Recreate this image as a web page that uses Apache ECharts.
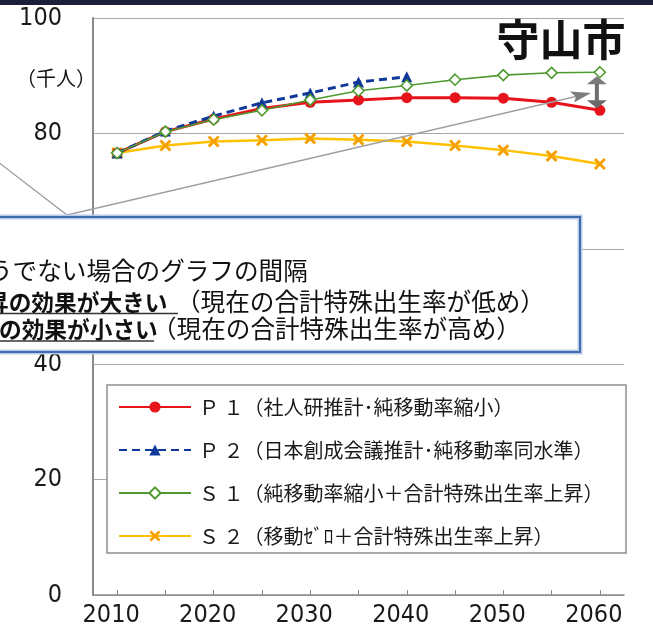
<!DOCTYPE html>
<html><head><meta charset="utf-8">
<script src="https://cdn.jsdelivr.net/npm/echarts@6/dist/echarts.min.js"></script>
<style>html,body{margin:0;padding:0;background:#fff}#c{width:653px;height:628px}</style>
</head><body><div id="c"></div>
<script>
// ---- data ----
const years = ['2010','2015','2020','2025','2030','2035','2040','2045','2050','2055','2060'];
const p1 = [76.6, 80.3, 82.5, 84.3, 85.4, 85.8, 86.2, 86.2, 86.1, 85.4, 84.0];
const p2 = [76.6, 80.4, 83.0, 85.3, 87.0, 88.9, 89.8];
const s1 = [76.6, 80.3, 82.4, 84.0, 85.8, 87.4, 88.3, 89.3, 90.1, 90.5, 90.6];
const s2 = [76.6, 77.9, 78.6, 78.8, 79.1, 78.9, 78.6, 77.9, 77.1, 76.1, 74.7];
const yTicks = [0, 20, 40, 60, 80, 100];
const seriesNames = [
  'Ｐ １（社人研推計･純移動率縮小）',
  'Ｐ ２（日本創成会議推計･純移動率同水準）',
  'Ｓ １（純移動率縮小＋合計特殊出生率上昇）',
  'Ｓ ２（移動ｾﾞﾛ＋合計特殊出生率上昇）'
];
const titleText = '守山市';
const unitText = '（千人）';
const noteLine1 = 'うでない場合のグラフの間隔';
const noteLine2Bold = '昇の効果が大きい';
const noteLine2 = '（現在の合計特殊出生率が低め）';
const noteLine3Bold = 'の効果が小さい';
const noteLine3 = '（現在の合計特殊出生率が高め）';

const NUM_FONT = "'Liberation Sans Narrow','DejaVu Sans Condensed','Arial Narrow',sans-serif";
const JP_FONT = "'Noto Sans CJK JP','Noto Sans CJK SC',sans-serif";
const xMark = 'path://M0,1.7L1.7,0L5,3.3L8.3,0L10,1.7L6.7,5L10,8.3L8.3,10L5,6.7L1.7,10L0,8.3L3.3,5Z';

const chart = echarts.init(document.getElementById('c'), null, {renderer: 'canvas'});
chart.setOption({
  animation: false,
  backgroundColor: '#ffffff',
  grid: {left: 93, right: 29, top: 18, bottom: 30, containLabel: false},
  legend: {
    orient: 'vertical', left: 118, top: 397, padding: 0,
    itemWidth: 72, itemHeight: 14, itemGap: 23,
    textStyle: {fontFamily: JP_FONT, fontSize: 20, lineHeight: 20, color: '#1a1a1a', padding: [0, 0, 0, 3]},
    data: seriesNames, z: 6
  },
  xAxis: {
    type: 'category', data: years, boundaryGap: true,
    axisLine: {lineStyle: {color: '#8a8a8a', width: 1.5}},
    axisTick: {show: true, inside: true, length: 5, alignWithLabel: true, interval: 0, lineStyle: {color: '#8a8a8a'}},
    axisLabel: {interval: 1, margin: 8, formatter: '{a|{value}}',
      rich: {a: {fontFamily: NUM_FONT, fontSize: 25, color: '#1a1a1a', padding: [0, 12, 0, 0]}}},
    splitLine: {show: false}
  },
  yAxis: {
    type: 'value', min: yTicks[0], max: yTicks[yTicks.length - 1], interval: 20,
    axisLine: {show: true, lineStyle: {color: '#8a8a8a', width: 2}},
    axisTick: {show: false},
    axisLabel: {fontFamily: NUM_FONT, fontSize: 25, color: '#1a1a1a', margin: 31},
    splitLine: {lineStyle: {color: '#a8a8a8', width: 1}}
  },
  series: [
    {name: seriesNames[0], type: 'line', data: p1, symbol: 'circle', symbolSize: 11,
     lineStyle: {color: '#e8141c', width: 3}, itemStyle: {color: '#e8141c'}, z: 3},
    {name: seriesNames[1], type: 'line', data: p2, symbol: 'triangle', symbolSize: 11,
     lineStyle: {color: '#10389a', width: 3, type: [8, 5]}, itemStyle: {color: '#10389a'}, z: 4},
    {name: seriesNames[2], type: 'line', data: s1, symbol: 'diamond', symbolSize: 11,
     lineStyle: {color: '#4e9a2f', width: 1.6}, itemStyle: {color: '#ffffff', borderColor: '#4e9a2f', borderWidth: 1.6}, z: 5},
    {name: seriesNames[3], type: 'line', data: s2, symbol: xMark, symbolSize: 12,
     lineStyle: {color: '#ffc000', width: 2.5}, itemStyle: {color: '#f5a000'}, z: 2}
  ]
});

const topPt = chart.convertToPixel({xAxisIndex: 0, yAxisIndex: 0}, [years[10], s1[10]]);
const botPt = chart.convertToPixel({xAxisIndex: 0, yAxisIndex: 0}, [years[10], p1[10]]);
const ax = topPt[0] - 3, yTop = topPt[1] + 4, yBot = botPt[1] - 2;

function txt(text, x, y, font, align, z) {
  return {type: 'text', silent: true, z: z, style: {text: text, x: x, y: y, font: font, fill: '#111',
    textAlign: align || 'left', textVerticalAlign: 'middle', align: align || 'left', verticalAlign: 'middle'}};
}
const normalFont = "normal 24.6px " + JP_FONT;
const boldFont = "bold 22.7px " + JP_FONT;

chart.setOption({
  graphic: [
    {type: 'rect', silent: true, z: 20, shape: {x: 0, y: 0, width: 653, height: 5}, style: {fill: '#1b2038'}},
    txt(titleText, 561, 40, "bold 43px " + JP_FONT, 'center', 20),
    txt(unitText, 16, 78, "normal 20px " + JP_FONT, 'left', 20),
    // legend frame
    {type: 'rect', silent: true, z: 3, shape: {x: 107, y: 385, width: 519, height: 168},
     style: {fill: '#ffffff', stroke: '#8e8e8e', lineWidth: 1.5}},
    // pointer lines
    {type: 'line', silent: true, z: 9, shape: {x1: -2, y1: 162, x2: 67, y2: 215}, style: {stroke: '#9a9a9a', lineWidth: 1.3}},
    {type: 'line', silent: true, z: 9, shape: {x1: 67, y1: 215, x2: 578, y2: 96}, style: {stroke: '#a0a0a0', lineWidth: 1.3}},
    {type: 'polygon', silent: true, z: 9, shape: {points: [[591, 93], [570, 91.5], [576, 97], [574, 102.5]]}, style: {fill: '#7c7c7c'}},
    // vertical double arrow
    {type: 'rect', silent: true, z: 9, shape: {x: ax - 2, y: yTop + 7, width: 4, height: yBot - yTop - 14}, style: {fill: '#6e6e6e'}},
    {type: 'polygon', silent: true, z: 9, shape: {points: [[ax, yTop], [ax - 10, yTop + 8], [ax + 10, yTop + 8]]}, style: {fill: '#7a7a7a'}},
    {type: 'polygon', silent: true, z: 9, shape: {points: [[ax, yBot], [ax - 10, yBot - 8], [ax + 10, yBot - 8]]}, style: {fill: '#6a6a6a'}},
    // callout box
    {type: 'rect', silent: true, z: 10, shape: {x: -6, y: 217, width: 586, height: 135},
     style: {fill: '#ffffff', stroke: '#b9cbe6', lineWidth: 5}},
    {type: 'rect', silent: true, z: 10, shape: {x: -6, y: 217, width: 586, height: 135},
     style: {fill: null, stroke: '#3f6db0', lineWidth: 2}},
    txt(noteLine1, -12, 271, normalFont, 'left', 11),
    txt(noteLine2Bold, -14, 302, boldFont, 'left', 11),
    txt(noteLine2, 176, 302, normalFont, 'left', 11),
    txt(noteLine3Bold, -1, 329, boldFont, 'left', 11),
    txt(noteLine3, 152, 329, normalFont, 'left', 11),
    {type: 'line', silent: true, z: 11, shape: {x1: 0, y1: 313.5, x2: 178, y2: 313.5}, style: {stroke: '#333', lineWidth: 1.5}},
    {type: 'line', silent: true, z: 11, shape: {x1: 0, y1: 341, x2: 154, y2: 341}, style: {stroke: '#333', lineWidth: 1.5}}
  ]
});
</script></body></html>
